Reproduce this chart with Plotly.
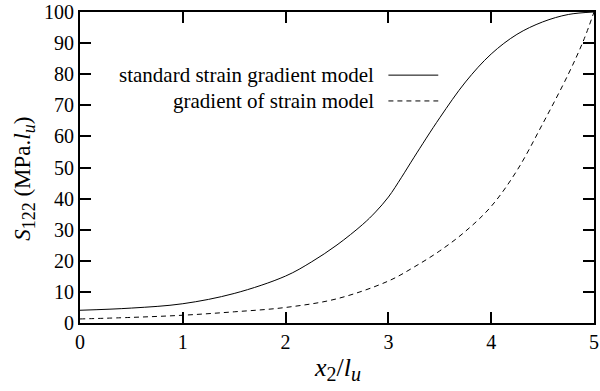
import plotly.graph_objects as go

# Data
x_solid = [0, 0.5, 1, 1.5, 2, 2.25, 2.5, 2.75, 2.875, 3, 3.125, 3.25, 3.5, 3.75, 4, 4.25, 4.5, 4.75, 5]
y_solid = [4.1, 4.8, 6.2, 9.5, 15.1, 19.6, 25.1, 31.7, 35.7, 40.5, 46.7, 53.3, 66.0, 77.5, 86.5, 92.8, 96.8, 99.2, 100]

x_dash = [0, 0.5, 1, 1.5, 2, 2.5, 3, 3.25, 3.5, 3.75, 4, 4.25, 4.5, 4.75, 4.9, 5]
y_dash = [1.3, 1.8, 2.5, 3.6, 5.0, 7.8, 13.5, 18, 23.2, 29.5, 37.5, 49, 64, 80, 91, 100]

x_ticks = [0, 1, 2, 3, 4, 5]
y_ticks = [0, 10, 20, 30, 40, 50, 60, 70, 80, 90, 100]

legend_labels = ["standard strain gradient model", "gradient of strain model"]

FONT = "Liberation Serif, Times New Roman, Times, serif"

fig = go.Figure()
fig.add_trace(go.Scatter(x=x_solid, y=y_solid, mode="lines",
                         line=dict(color="black", width=1, shape="spline", smoothing=1.0),
                         showlegend=False))
fig.add_trace(go.Scatter(x=x_dash, y=y_dash, mode="lines",
                         line=dict(color="black", width=1, dash="5px,4px", shape="spline", smoothing=1.0),
                         showlegend=False))

axis_common = dict(showline=True, linecolor="black", linewidth=2, mirror="ticks",
                   ticks="inside", ticklen=11, tickwidth=2, tickcolor="black",
                   showgrid=False, zeroline=False, ticklabeloverflow="allow",
                   tickfont=dict(family=FONT, size=20, color="black"))

fig.update_xaxes(range=[0, 5], tickvals=x_ticks, **axis_common)
fig.update_yaxes(range=[0, 100], tickvals=y_ticks, **axis_common)

# Legend (text on left, line sample on right)
leg_y = [0.797, 0.714]
dashes = [None, "5px,4px"]
for lab, yy, d in zip(legend_labels, leg_y, dashes):
    fig.add_annotation(xref="paper", yref="paper", x=0.575, y=yy, text=lab,
                       showarrow=False, xanchor="right", yanchor="middle",
                       font=dict(family=FONT, size=21, color="black"))
    fig.add_shape(type="line", xref="paper", yref="paper",
                  x0=0.600, x1=0.697, y0=yy, y1=yy,
                  line=dict(color="black", width=1, dash=d if d else "solid"))

# Axis titles
fig.add_annotation(xref="paper", yref="paper", x=0.5, y=-0.148,
                   text="<i>x</i><sub><span style='font-size:20px'>2</span></sub>/<i>l<sub><span style='font-size:20px'>u</span></sub></i>",
                   showarrow=False, xanchor="center", yanchor="middle",
                   font=dict(family=FONT, size=26, color="black"))
fig.add_annotation(xref="paper", yref="paper", x=-0.108, y=0.465,
                   text="<i>S</i><sub><span style='font-size:18px'>122</span></sub> (MPa.<i>l<sub><span style='font-size:18px'>u</span></sub></i>)",
                   showarrow=False, xanchor="center", yanchor="middle", textangle=-90,
                   font=dict(family=FONT, size=23, color="black"))

fig.update_layout(width=600, height=391,
                  margin=dict(l=80, r=1, t=8, b=68),
                  plot_bgcolor="white", paper_bgcolor="white",
                  font=dict(family=FONT, color="black"))

fig.write_html("out.html")
